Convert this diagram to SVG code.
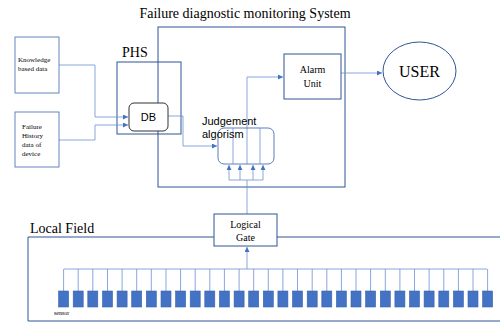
<svg xmlns="http://www.w3.org/2000/svg" width="500" height="322" viewBox="0 0 500 322">
<style>
.box{fill:none;stroke:#2F5597;stroke-width:1}
.wbox{fill:#fff;stroke:#2F5597;stroke-width:1}
.lbox{fill:#fff;stroke:#5577BB;stroke-width:0.9}
.ln{fill:none;stroke:#6F8FCF;stroke-width:0.8}
.ser{font-family:"Liberation Serif",serif;fill:#000}
.sans{font-family:"Liberation Sans",sans-serif;fill:#000}
.sen{fill:#4472C4;stroke:#3A62AA;stroke-width:0.6}
</style>
<defs>
<marker id="ah" viewBox="0 0 6 6" refX="6" refY="3" markerWidth="5" markerHeight="5" orient="auto" markerUnits="userSpaceOnUse">
<path d="M0,0 L6,3 L0,6 Z" fill="#4472C4"/>
</marker>
</defs>
<rect width="500" height="322" fill="#fff"/>
<text class="ser" x="245" y="18" font-size="14" text-anchor="middle">Failure diagnostic monitoring System</text>

<g id="system"><rect class="box" x="158" y="27" width="187" height="160"/></g>
<g id="phs"><rect class="box" x="117" y="62" width="64" height="72"/><text class="ser" x="122" y="57" font-size="14">PHS</text></g>
<g id="localfield">
<path class="box" d="M500,237 H28 V321 H500"/>
<text class="ser" x="30" y="233" font-size="14">Local Field</text>
</g>

<g id="connectors">
<path class="ln" d="M59,65 H95 V117 H128" marker-end="url(#ah)"/>
<path class="ln" d="M59,140 H95 V125 H128" marker-end="url(#ah)"/>
<path class="ln" d="M168,116 H183 V146 H217" marker-end="url(#ah)"/>
<path class="ln" d="M247,164 V77 H283" marker-end="url(#ah)"/>
<path class="ln" d="M341,73 H382" marker-end="url(#ah)"/>
<path class="ln" d="M229,180 V165" marker-end="url(#ah)"/>
<path class="ln" d="M240,180 V165" marker-end="url(#ah)"/>
<path class="ln" d="M253,180 V165" marker-end="url(#ah)"/>
<path class="ln" d="M263,180 V165" marker-end="url(#ah)"/>
<path class="ln" d="M229,180 H263 M247,180 V214"/>
<path class="ln" d="M247,269 V247" marker-end="url(#ah)"/>
<path class="ln" d="M64,269 H487"/>
<path class="ln" d="M63.6,269 V291 M78.2,269 V291 M92.8,269 V291 M107.5,269 V291 M122.1,269 V291 M136.7,269 V291 M151.3,269 V291 M166,269 V291 M180.6,269 V291 M195.2,269 V291 M209.8,269 V291 M224.4,269 V291 M239.1,269 V291 M253.7,269 V291 M268.3,269 V291 M282.9,269 V291 M297.5,269 V291 M312.2,269 V291 M326.8,269 V291 M341.4,269 V291 M356,269 V291 M370.6,269 V291 M385.3,269 V291 M399.9,269 V291 M414.5,269 V291 M429.1,269 V291 M443.8,269 V291 M458.4,269 V291 M473,269 V291 M487.6,269 V291"/>
</g>

<g id="knowledge"><rect class="lbox" x="15" y="37" width="44" height="56"/>
<text class="ser" font-size="7" x="18" y="62">Knowledge</text><text class="ser" font-size="7" x="18" y="71">based data</text></g>
<g id="failure"><rect class="lbox" x="15" y="112" width="44" height="55"/>
<text class="ser" font-size="7" x="22" y="129">Failure</text><text class="ser" font-size="7" x="22" y="138">History</text><text class="ser" font-size="7" x="22" y="147">data of</text><text class="ser" font-size="7" x="22" y="156">device</text></g>
<g id="db"><rect x="129" y="103" width="39" height="28" rx="5" fill="#fff" stroke="#333" stroke-width="1"/>
<text class="sans" x="148.5" y="121" font-size="11" text-anchor="middle">DB</text></g>
<g id="judgement">
<rect x="218" y="128" width="56" height="36" rx="6" fill="none" stroke="#4A6FB5" stroke-width="0.9"/>
<path class="ln" d="M233,128 V164 M260,128 V164"/>
<text class="sans" x="202" y="125" font-size="11">Judgement</text>
<text class="sans" x="202" y="138" font-size="11">algorism</text>
</g>
<g id="alarm"><rect class="wbox" x="284" y="54" width="57" height="45"/>
<text class="ser" x="312.5" y="73" font-size="10" text-anchor="middle">Alarm</text><text class="ser" x="312.5" y="87" font-size="10" text-anchor="middle">Unit</text></g>
<g id="user"><ellipse cx="419.5" cy="71" rx="36.5" ry="29" fill="#fff" stroke="#2F5597" stroke-width="1"/>
<text class="ser" x="419.5" y="77" font-size="16" text-anchor="middle">USER</text></g>
<g id="gate"><rect class="wbox" x="214" y="214" width="63" height="32"/>
<text class="ser" x="245.5" y="228" font-size="10" text-anchor="middle">Logical</text><text class="ser" x="245.5" y="241" font-size="10" text-anchor="middle">Gate</text></g>
<g id="sensors">
<rect class="sen" x="58.6" y="291" width="10" height="16"/><rect class="sen" x="73.2" y="291" width="10" height="16"/><rect class="sen" x="87.8" y="291" width="10" height="16"/><rect class="sen" x="102.5" y="291" width="10" height="16"/><rect class="sen" x="117.1" y="291" width="10" height="16"/><rect class="sen" x="131.7" y="291" width="10" height="16"/><rect class="sen" x="146.3" y="291" width="10" height="16"/><rect class="sen" x="161" y="291" width="10" height="16"/><rect class="sen" x="175.6" y="291" width="10" height="16"/><rect class="sen" x="190.2" y="291" width="10" height="16"/><rect class="sen" x="204.8" y="291" width="10" height="16"/><rect class="sen" x="219.4" y="291" width="10" height="16"/><rect class="sen" x="234.1" y="291" width="10" height="16"/><rect class="sen" x="248.7" y="291" width="10" height="16"/><rect class="sen" x="263.3" y="291" width="10" height="16"/><rect class="sen" x="277.9" y="291" width="10" height="16"/><rect class="sen" x="292.5" y="291" width="10" height="16"/><rect class="sen" x="307.2" y="291" width="10" height="16"/><rect class="sen" x="321.8" y="291" width="10" height="16"/><rect class="sen" x="336.4" y="291" width="10" height="16"/><rect class="sen" x="351" y="291" width="10" height="16"/><rect class="sen" x="365.6" y="291" width="10" height="16"/><rect class="sen" x="380.3" y="291" width="10" height="16"/><rect class="sen" x="394.9" y="291" width="10" height="16"/><rect class="sen" x="409.5" y="291" width="10" height="16"/><rect class="sen" x="424.1" y="291" width="10" height="16"/><rect class="sen" x="438.8" y="291" width="10" height="16"/><rect class="sen" x="453.4" y="291" width="10" height="16"/><rect class="sen" x="468" y="291" width="10" height="16"/><rect class="sen" x="482.6" y="291" width="10" height="16"/>
<text class="ser" x="54" y="315" font-size="6">sensor</text>
</g>
</svg>
